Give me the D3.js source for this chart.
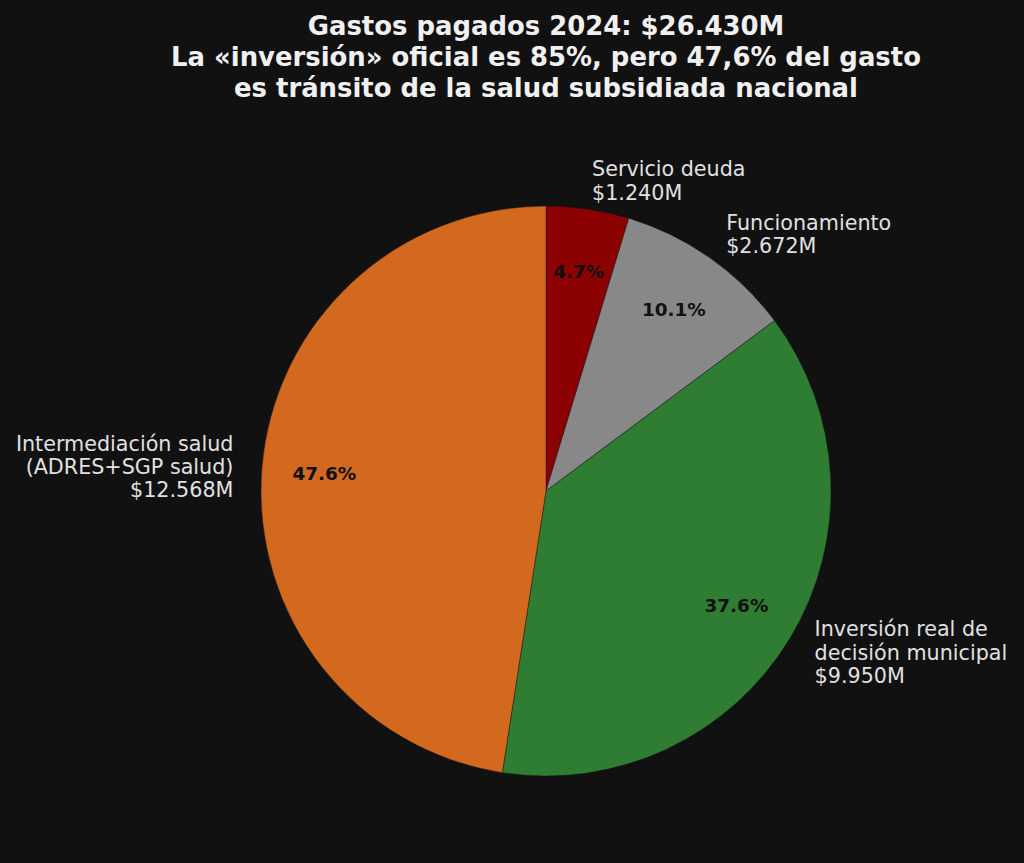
<!DOCTYPE html>
<html><head><meta charset="utf-8">
<script src="https://cdn.jsdelivr.net/npm/d3@7"></script>
<style>body{margin:0;background:#111111;}svg{display:block;}</style>
</head><body>
<script>
const categories = ["Servicio deuda", "Funcionamiento", "Inversión real de\ndecisión municipal", "Intermediación salud\n(ADRES+SGP salud)"];
const values = [1240, 2672, 9950, 12568];
const valueLabels = ["$1.240M", "$2.672M", "$9.950M", "$12.568M"];
const colors = ["#8B0000", "#888888", "#2E7D32", "#D2691E"];
const titleLines = ["Gastos pagados 2024: $26.430M", "La «inversión» oficial es 85%, pero 47,6% del gasto", "es tránsito de la salud subsidiada nacional"];

const W = 1024, H = 863, cx = 546, cy = 491, R = 285;
const svg = d3.select("body").append("svg").attr("width", W).attr("height", H);
svg.append("rect").attr("width", W).attr("height", H).attr("fill", "#111111");

const t = svg.append("text").attr("text-anchor", "middle").attr("fill", "#f0f0f0")
  .attr("font-family", "DejaVu Sans").attr("font-weight", "bold").attr("font-size", 25.9);
titleLines.forEach((l, i) => t.append("tspan").attr("x", 546).attr("y", 35 + i * 31).text(l));

const total = d3.sum(values);
const pie = d3.pie().sort(null).value(d => d)(values);
const arc = d3.arc().innerRadius(0).outerRadius(R);
const g = svg.append("g").attr("transform", `translate(${cx},${cy})`);
g.selectAll("path").data(pie).join("path").attr("d", arc)
  .attr("fill", (d, i) => colors[i]).attr("stroke", "#111111").attr("stroke-width", 0.4);

pie.forEach((d, i) => {
  const a = (d.startAngle + d.endAngle) / 2;
  const px = Math.sin(a) * R * 0.78, py = -Math.cos(a) * R * 0.78;
  g.append("text").attr("x", px).attr("y", py).attr("text-anchor", "middle").attr("dominant-baseline", "central")
    .attr("font-family", "DejaVu Sans").attr("font-weight", "bold").attr("font-size", 18.4).attr("fill", "#111111")
    .text((values[i] / total * 100).toFixed(1) + "%");
  const lx = Math.sin(a) * R * 1.1, ly = -Math.cos(a) * R * 1.1;
  const lines = categories[i].split("\n").concat([valueLabels[i]]);
  const lh = 23.3;
  const anchor = lx >= 0 ? "start" : "end";
  const tx = g.append("text").attr("text-anchor", anchor).attr("font-family", "DejaVu Sans")
    .attr("font-size", 20.7).attr("fill", "#e0e0e0");
  lines.forEach((l, j) => tx.append("tspan").attr("x", lx).attr("y", ly + (j - (lines.length - 1) / 2) * lh)
    .attr("dominant-baseline", "central").text(l));
});
</script>
</body></html>
